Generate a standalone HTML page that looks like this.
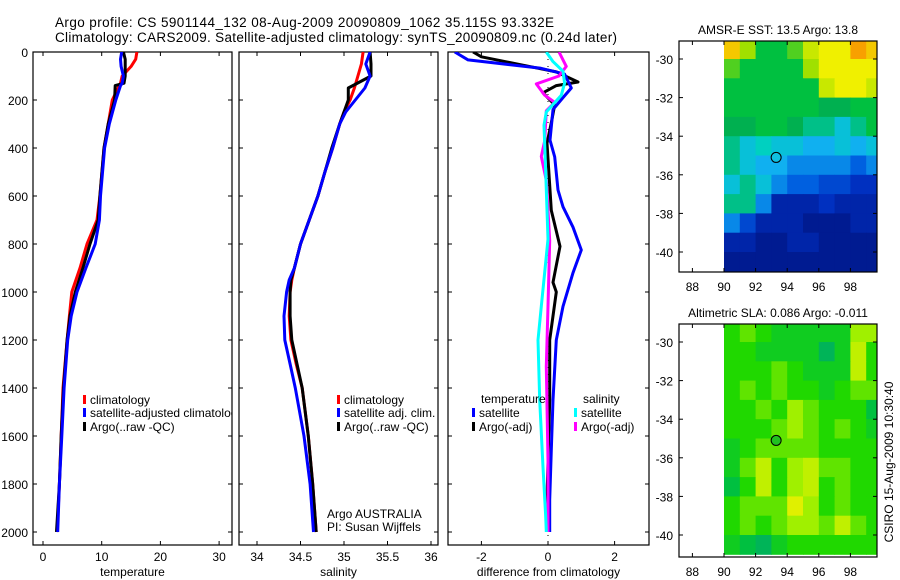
<!DOCTYPE html>
<html><head><meta charset="utf-8"><style>
html,body{margin:0;padding:0;background:#fff;}
svg{display:block;font-family:"Liberation Sans",Arial,sans-serif;}
</style></head><body>
<svg id="fig" width="900" height="580" viewBox="0 0 900 580" xmlns="http://www.w3.org/2000/svg">
<defs>
<clipPath id="c1"><rect x="33" y="52" width="199" height="493"/></clipPath>
<clipPath id="c2"><rect x="239" y="52" width="199" height="493"/></clipPath>
<clipPath id="c3"><rect x="448" y="52" width="201" height="493"/></clipPath>
<clipPath id="m1"><rect x="679" y="41" width="198" height="231"/></clipPath>
<clipPath id="m2"><rect x="679" y="324" width="198" height="233"/></clipPath>
</defs>
<text x="55" y="27" font-size="13.5" textLength="499">Argo profile: CS 5901144_132 08-Aug-2009 20090809_1062 35.115S 93.332E</text>
<text x="55" y="42" font-size="13.5" textLength="562">Climatology: CARS2009. Satellite-adjusted climatology: synTS_20090809.nc (0.24d later)</text>
<g id="layer"></g>
</svg>
<script>
// ---- temperature panel data ----
const tDepth=[0,30,60,100,130,140,200,300,400,600,700,800,900,1000,1100,1200,1400,1600,1800,2000];
const tClim=[16,15.8,15,13.5,13.2,13,11.8,11.1,10.4,9.7,9.2,7.5,6.3,4.9,4.5,4.1,3.4,3.1,2.8,2.4];
const tArgo=[13.7,14,14,14,13.8,12.3,12.2,11.1,10.4,9.7,9.4,8.0,6.8,5.5,4.6,4.1,3.5,3.1,2.8,2.3];
const tSat=[13.4,13.2,13.3,13.7,13.5,13.2,12.4,11.3,10.5,9.8,9.6,8.9,7.3,5.8,4.8,4.2,3.6,3.2,2.8,2.5];
const tTicks=[0,10,20,30];
// ---- salinity panel data ----
const sDepth=[0,50,100,150,200,250,300,400,500,600,700,800,900,950,1000,1100,1200,1300,1400,1600,1800,2000];
const sClim=[35.22,35.2,35.16,35.12,35.07,35.0,34.95,34.87,34.78,34.7,34.6,34.5,34.43,34.4,34.38,34.37,34.39,34.45,34.52,34.59,34.64,34.68];
const sArgo=[35.3,35.31,35.31,35.05,35.05,35.0,34.95,34.86,34.78,34.7,34.6,34.5,34.43,34.39,34.38,34.38,34.4,34.46,34.52,34.59,34.64,34.68];
const sSat=[35.3,35.25,35.3,35.24,35.13,35.02,34.95,34.87,34.78,34.7,34.6,34.5,34.43,34.37,34.34,34.31,34.32,34.38,34.44,34.54,34.61,34.65];
const sTicks=[34,34.5,35,35.5,36];
// ---- difference panel data ----
const dTSatDepth=[0,33,67,92,150,190,240,367,437,575,645,730,825,920,1060,1200,1450,1658,1866,2000];
const dTSat=[-2.8,-2.4,-0.24,0.5,0.7,0.45,0.15,0.06,0.2,0.3,0.45,0.75,1.0,0.75,0.45,0.25,0.15,0.1,0.05,0.05];
const dTArgoDepth=[0,20,55,83,125,140,170,220,295,380,660,810,960,1000,1200,1450,1866,1950];
const dTArgo=[-2.25,-2.0,-0.75,0.25,0.9,0.25,-0.15,0.2,0.1,-0.03,0.1,0.36,0.15,0.25,0.05,0.05,-0.03,0];
const dSArgoDepth=[0,60,100,133,180,210,245,370,435,535,785,1060,1310,1700,2000];
const dSArgo=[0.33,0.55,0.33,-0.35,-0.1,0.2,-0.05,-0.1,-0.2,-0.05,0.05,0,-0.05,0,0];
const dSSatDepth=[0,40,80,130,180,250,305,500,780,1060,1200,1450,1730,1935,2000];
const dSSat=[-0.05,0.15,0.45,0.5,0.4,-0.05,-0.12,-0.07,0,-0.2,-0.3,-0.25,-0.15,-0.07,-0.05];
const dTicks=[-2,0,2];
const depthTicks=[0,200,400,600,800,1000,1200,1400,1600,1800,2000];
// ---- map data (rows lat -29..-41, cols lon 90..99) ----
const mapLon=[90,91,92,93,94,95,96,97,98,99];
const mapLat=[-29,-30,-31,-32,-33,-34,-35,-36,-37,-38,-39,-40];
const sstGrid=[
[8.5,7,6,6,6.5,7.5,8,8,9,8.5],
[6.5,6,6,6,6,7,8,8,8,8],
[6,6,6,6,6,6,7.5,8,8,7.5],
[6,6,6,6,6,6,5.5,5.5,6,6],
[5.5,5.5,6,6,5.5,5,5,4,5,6],
[5,4,4.5,4,4,3.5,3.5,4,3.5,4],
[5,4,3.5,3.5,3,3,3,3,2.5,3],
[4,5,4,3,2.5,2.5,2,2,1.5,1.5],
[5,5,3,1,1,1,1.5,1,1,1],
[3,2,1,1,1,0.5,0.5,0.5,1,1],
[1,1,0.5,0.5,1,1,0.5,0.5,0.5,0.5],
[0.5,0.5,0.5,0.5,0.5,0.5,0.5,0.5,0.5,0.5]];
const slaGrid=[
[6,6.5,6,5.5,5.5,5.5,5.5,5.5,7,7],
[6,6,5.5,5.5,5.5,5.5,4.5,5.5,7.5,6],
[6,6,6,6.5,6,5.5,5.5,5.5,7.5,6],
[6,6.5,6,6.5,6,6,5.5,6,6.5,6.5],
[6,6,6.5,6,7,6.5,6,6,6,5],
[6,6,6,6.5,7,6.5,6,6.5,6,5.5],
[5.5,6,6.5,6.5,6.5,6.5,6,6,6,6],
[5.5,6.5,7.5,6,7,7.5,6.5,6.5,6,6],
[5,6,7.5,6,7,7.5,6,6.5,6,6],
[6,6.5,6.5,6.5,8,7,6,6.5,6,6],
[6,6.5,6,6.5,7,7,6.5,7.5,6.5,6],
[5.5,5,4.5,5.5,6,6,6,6,6,6]];
const lonTicks=[88,90,92,94,96,98];
const latTicks=[-30,-32,-34,-36,-38,-40];
const argoLon=93.3, argoLat=-35.1;

const NS='http://www.w3.org/2000/svg';
const L=document.getElementById('layer');
function mk(tag,attrs,parent){const e=document.createElementNS(NS,tag);for(const k in attrs)e.setAttribute(k,attrs[k]);(parent||L).appendChild(e);return e;}
function txt(x,y,s,size,anchor,parent){const e=mk('text',{x:x,y:y,'font-size':size||12,'text-anchor':anchor||'start'},parent);e.textContent=s;return e;}
const yD=d=>52+0.24*d;

function panel(name,x0,x1,xf,ticks,lbl,title,clip){
  const g=mk('g',{});
  
  
  const r=mk('rect',{x:x0,y:52,width:x1-x0,height:493,fill:'none',stroke:'#000','stroke-width':1.2},g);
  
  
  ticks.forEach(t=>{const x=xf(t);
    mk('line',{x1:x,x2:x,y1:545,y2:541,stroke:'#000'},g);
    mk('line',{x1:x,x2:x,y1:52,y2:56,stroke:'#000'},g);
    const tl=txt(x,561,lbl(t),12,'middle',g);
    
    
  });
  depthTicks.forEach(d=>{const y=yD(d);
    mk('line',{x1:x0,x2:x0+4,y1:y,y2:y,stroke:'#000'},g);
    mk('line',{x1:x1,x2:x1-4,y1:y,y2:y,stroke:'#000'},g);
  });
  const at=txt((x0+x1)/2,576,title,12,'middle',g);
  
  
  const cg=mk('g',{'clip-path':'url(#'+clip+')'},g);
  return cg;
}
function line(g,xs,ds,xf,color,name){
  const pts=xs.map((v,i)=>xf(v).toFixed(1)+','+yD(ds[i]).toFixed(1)).join(' ');
  const p=mk('polyline',{points:pts,fill:'none',stroke:color,'stroke-width':3,'stroke-linejoin':'round'},g);
  
  
}
depthTicks.forEach(d=>{const t=txt(28,yD(d)+5,String(d),12,'end');
  
  });

const xT=v=>43+5.87*v;
const g1=panel('temperature-panel',33,232,xT,tTicks,String,'temperature','c1');
line(g1,tClim,tDepth,xT,'#ff0000','temp-climatology-line');
line(g1,tArgo,tDepth,xT,'#000000','temp-argo-line');
line(g1,tSat,tDepth,xT,'#0000ff','temp-satellite-line');
function legend(g,x,y,color,label,name){
  mk('rect',{x:x,y:y-9,width:3,height:9,fill:color},g);
  const t=txt(x+7,y,label,12,'start',g);
  
  
}
legend(g1,83,404,'#ff0000','climatology','legend-climatology');
legend(g1,83,417,'#0000ff','satellite-adjusted climatology','legend-satellite-adjusted');
legend(g1,83,431,'#000000','Argo(..raw -QC)','legend-argo-raw');

const xS=v=>257+87*(v-34);
const g2=panel('salinity-panel',239,438,xS,sTicks,String,'salinity','c2');
line(g2,sClim,sDepth,xS,'#ff0000','sal-climatology-line');
line(g2,sArgo,sDepth,xS,'#000000','sal-argo-line');
line(g2,sSat,sDepth,xS,'#0000ff','sal-satellite-line');
legend(g2,337,404,'#ff0000','climatology','legend-climatology-sal');
legend(g2,337,417,'#0000ff','satellite adj. clim.','legend-satellite-adj-sal');
legend(g2,337,431,'#000000','Argo(..raw -QC)','legend-argo-raw-sal');
let n=txt(327,518,'Argo AUSTRALIA',12,'start',g2);


n=txt(327,531,'PI: Susan Wijffels',12,'start',g2);



const xDf=v=>548+33.3*v;
const g3=panel('difference-panel',448,649,xDf,dTicks,String,'difference from climatology','c3');
mk('line',{x1:548,x2:548,y1:52,y2:545,stroke:'#000','stroke-dasharray':'1,6','stroke-width':1},g3);
line(g3,dTArgo,dTArgoDepth,xDf,'#000000','diff-temp-argo-line');
line(g3,dTSat,dTSatDepth,xDf,'#0000ff','diff-temp-satellite-line');
line(g3,dSArgo,dSArgoDepth,xDf,'#ff00ff','diff-sal-argo-line');
line(g3,dSSat,dSSatDepth,xDf,'#00ffff','diff-sal-satellite-line');
n=txt(481,403,'temperature',12,'start',g3);


n=txt(583,403,'salinity',12,'start',g3);


legend(g3,472,417,'#0000ff','satellite','legend-temp-satellite');
legend(g3,472,431,'#000000','Argo(-adj)','legend-temp-argo');
legend(g3,574,417,'#00ffff','satellite','legend-sal-satellite');
legend(g3,574,431,'#ff00ff','Argo(-adj)','legend-sal-argo');

function lerpColor(stops,v){
  if(v<=stops[0][0])return stops[0][1];
  for(let i=1;i<stops.length;i++){if(v<=stops[i][0]){const a=stops[i-1],b=stops[i];const f=(v-a[0])/(b[0]-a[0]);
    const ca=a[1].match(/\w\w/g).map(h=>parseInt(h,16)),cb=b[1].match(/\w\w/g).map(h=>parseInt(h,16));
    return ca.map((c,j)=>Math.round(c+(cb[j]-c)*f).toString(16).padStart(2,'0')).join('');}}
  return stops[stops.length-1][1];
}
const sstStops=[[0,'00107a'],[1.5,'0030c0'],[2.5,'0060e0'],[3.5,'10b0f0'],[4.5,'00d0c0'],[5.5,'00b050'],[6,'00c040'],[7,'a0e000'],[8,'f0f000'],[9,'f8a000']];
const slaStops=[[4,'00a870'],[5,'00c040'],[6,'20d800'],[7,'a0f000'],[8,'e0f000']];
function map(name,top,bot,lat30,lat40,grid,stops,title,clip,dotFill){
  const g=mk('g',{});
  
  
  const xL=lon=>724+(lon-90)*15.8;
  const yL=lat=>lat30+(-30-lat)*(lat40-lat30)/10;
  const cg=mk('g',{'clip-path':'url(#'+clip+')'},g);
  grid.forEach((row,i)=>row.forEach((v,j)=>{
    const c=mk('rect',{x:xL(mapLon[j]),y:yL(mapLat[i]),width:16.3,height:(lat40-lat30)/10+0.5,fill:'#'+lerpColor(stops,v)},cg);
    
    
  }));
  mk('rect',{x:679,y:top,width:198,height:bot-top,fill:'none',stroke:'#000','stroke-width':1.2},g);
  lonTicks.forEach(t=>{const x=xL(t);
    mk('line',{x1:x,x2:x,y1:bot,y2:bot-4,stroke:'#000'},g);
    mk('line',{x1:x,x2:x,y1:top,y2:top+4,stroke:'#000'},g);
    const l=txt(x,bot+19,String(t),12,'middle',g);
    
    });
  latTicks.forEach(t=>{const y=yL(t);
    mk('line',{x1:679,x2:683,y1:y,y2:y,stroke:'#000'},g);
    mk('line',{x1:877,x2:873,y1:y,y2:y,stroke:'#000'},g);
    const l=txt(673,y+5,String(t),12,'end',g);
    
    });
  const dot=mk('circle',{cx:xL(argoLon),cy:yL(argoLat),r:5,fill:dotFill,stroke:'#000','stroke-width':1},g);
  
  
  const tt=txt(778,top-7,title,12,'middle',g);
  
  
}
map('sst-map',41,272,59,252,sstGrid,sstStops,'AMSR-E SST: 13.5 Argo: 13.8','m1','#10c0e0');
map('sla-map',324,557,342,535,slaGrid,slaStops,'Altimetric SLA: 0.086 Argo: -0.011','m2','#20c020');
const cs=txt(0,0,'CSIRO 15-Aug-2009 10:30:40',12,'middle');
cs.setAttribute('transform','translate(893,462) rotate(-90)');


</script>
</body></html>
